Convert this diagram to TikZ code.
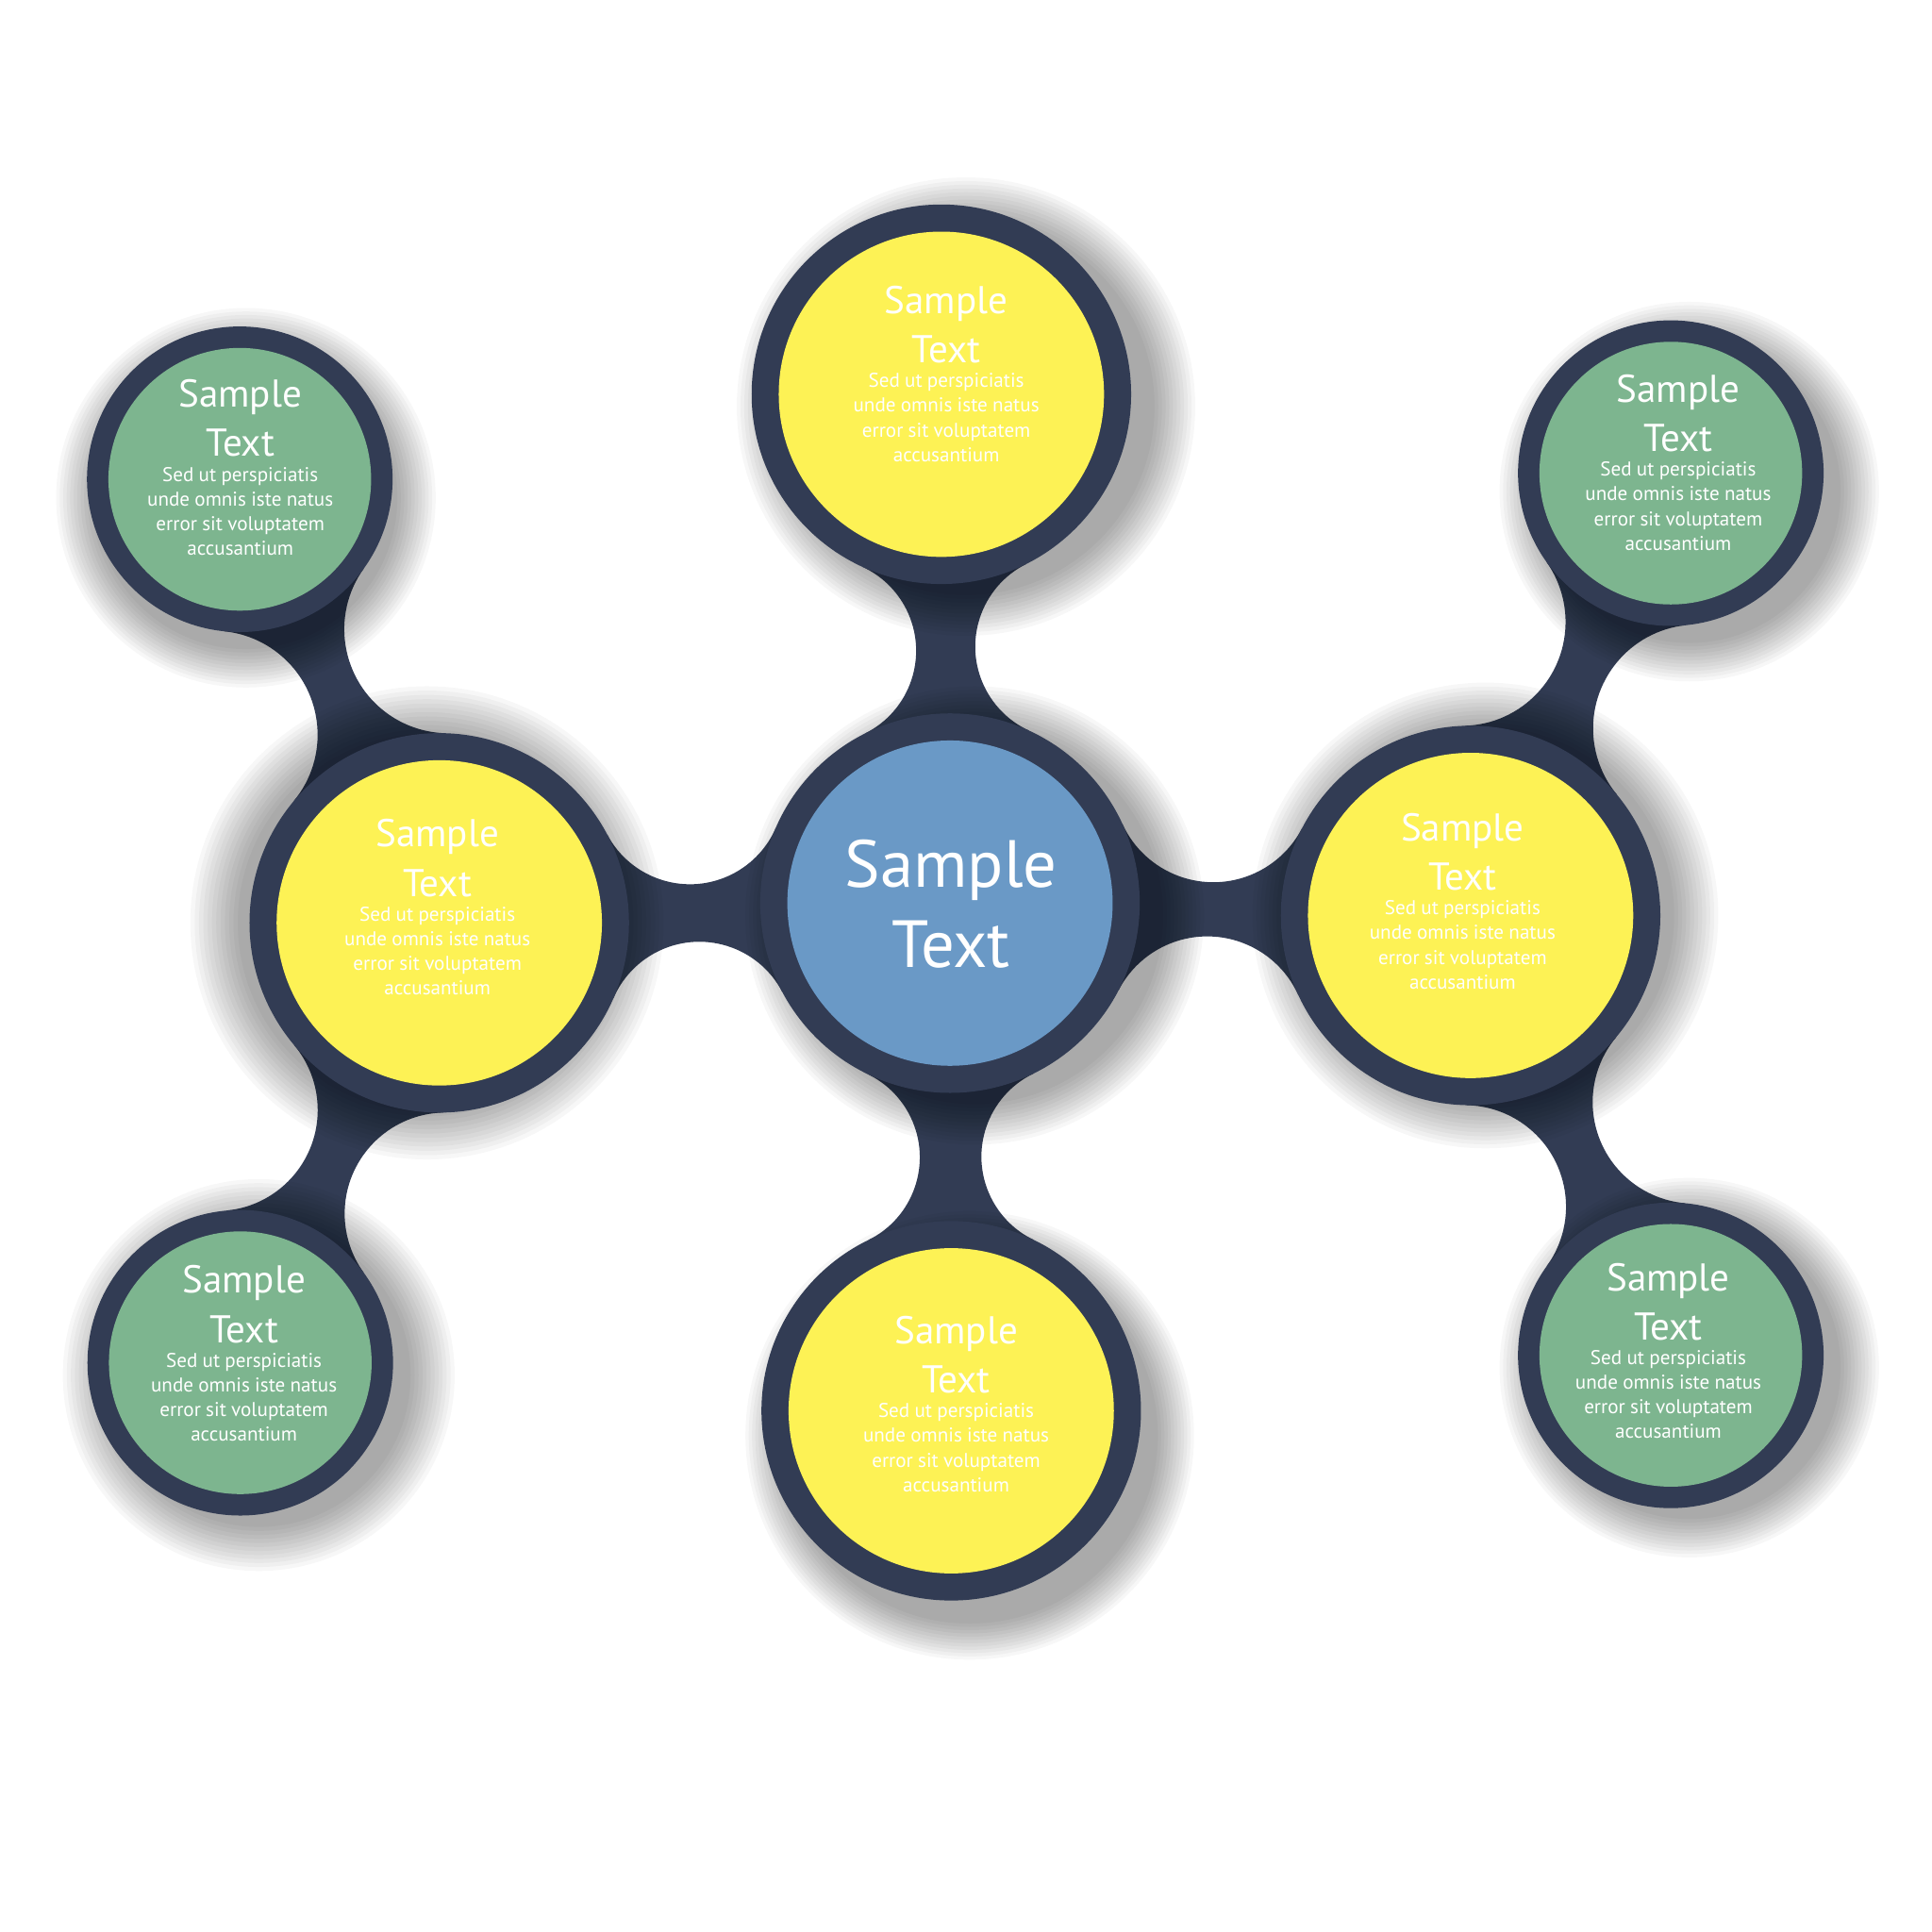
\documentclass[tikz,border=0pt]{standalone}
\usepackage{fontspec}
\setmainfont{PT Sans}
\definecolor{ringc}{RGB}{50,60,84}
\definecolor{yelc}{RGB}{253,242,85}
\definecolor{grnc}{RGB}{125,181,143}
\definecolor{bluc}{RGB}{106,153,198}
\tikzset{
  neckfill/.style={fill=ringc},
  shadowlayer/.style={fill=black, opacity=0.03},
  ringfill/.style={fill=ringc},
  lbl/.style={anchor=base, inner sep=0pt, text width=3cm, text=white, font=\fontsize{8.95}{11.4}\selectfont},
  clbl/.style={anchor=base, inner sep=0pt, text width=3cm, text=white, font=\fontsize{15.4}{18.5}\selectfont}
}
\newcommand\nodetxt{\centering Sample\\Text\par\fontsize{4.6}{5.69}\selectfont\spaceskip=0.25em\relax Sed ut perspiciatis\\unde omnis iste natus\\error sit voluptatem\\accusantium\par}
% soft shadow: centre #1 shifted by (#2,#3), base radius #4, extent #5
\newcommand\dropshadow[5]{%
\foreach \k in {1,...,12}{\fill[shadowlayer] ([shift={(#2,#3)}]#1) circle ({#4+#5*\k/12});}%
}
% neck between circle a (#1,#2; radius #3) and circle b (#4,#5; radius #6), half width #7
\newcommand\necknk[7]{%
\pgfmathsetmacro\nkdx{#4-#1}%
\pgfmathsetmacro\nkdy{#5-#2}%
\pgfmathsetmacro\nkd{sqrt(\nkdx*\nkdx+\nkdy*\nkdy)}%
\pgfmathsetmacro\nkux{\nkdx/\nkd}%
\pgfmathsetmacro\nkuy{\nkdy/\nkd}%
\pgfmathsetmacro\nkxo{(#3*#3-#6*#6+\nkd*\nkd)/(2*\nkd)}%
\pgfmathsetmacro\nkk{(#3-#6)/\nkd}%
\pgfmathsetmacro\nkA{-\nkk*\nkk}%
\pgfmathsetmacro\nkB{2*(#3-\nkxo*\nkk-#7)}%
\pgfmathsetmacro\nkC{#3*#3-\nkxo*\nkxo-#7*#7}%
\pgfmathsetmacro\nkrf{-2*\nkC/(\nkB+sqrt(\nkB*\nkB-4*\nkA*\nkC))}%
\pgfmathsetmacro\nkx{\nkxo+\nkk*\nkrf}%
\pgfmathsetmacro\nkh{\nkrf+#7}%
\pgfmathsetmacro\nkpx{#1+\nkx*\nkux-\nkh*\nkuy}%
\pgfmathsetmacro\nkpy{#2+\nkx*\nkuy+\nkh*\nkux}%
\pgfmathsetmacro\nkqx{#1+\nkx*\nkux+\nkh*\nkuy}%
\pgfmathsetmacro\nkqy{#2+\nkx*\nkuy-\nkh*\nkux}%
\pgfmathsetmacro\nkpa{atan2(#2-\nkpy,#1-\nkpx)}%
\pgfmathsetmacro\nkpb{atan2(#5-\nkpy,#4-\nkpx)}%
\pgfmathsetmacro\nkpbb{\nkpa+mod(\nkpb-\nkpa+540,360)-180}%
\pgfmathsetmacro\nkqb{atan2(#5-\nkqy,#4-\nkqx)}%
\pgfmathsetmacro\nkqa{atan2(#2-\nkqy,#1-\nkqx)}%
\pgfmathsetmacro\nkqaa{\nkqb+mod(\nkqa-\nkqb+540,360)-180}%
\fill[neckfill] ({\nkpx+\nkrf*cos(\nkpa)},{\nkpy+\nkrf*sin(\nkpa)}) arc[start angle=\nkpa, end angle=\nkpbb, radius=\nkrf]
  -- ({\nkqx+\nkrf*cos(\nkqb)},{\nkqy+\nkrf*sin(\nkqb)}) arc[start angle=\nkqb, end angle=\nkqaa, radius=\nkrf] -- cycle;
}
\begin{document}
\begin{tikzpicture}
\useasboundingbox[fill=white] (0,0) rectangle (15.68,15.68);
% centres
\coordinate (C) at (7.71,8.35);
\coordinate (T) at (7.64,12.48);
\coordinate (B) at (7.72,4.23);
\coordinate (L) at (3.565,8.19);
\coordinate (R) at (11.935,8.25);
\coordinate (TL) at (1.946,11.79);
\coordinate (BL) at (1.95,4.62);
\coordinate (TR) at (13.56,11.84);
\coordinate (BR) at (13.56,4.68);
% necks
\necknk{7.71}{8.35}{1.54}{7.64}{12.48}{1.54}{0.24}
\necknk{7.71}{8.35}{1.54}{7.72}{4.23}{1.54}{0.25}
\necknk{7.71}{8.35}{1.54}{3.565}{8.19}{1.54}{0.234}
\necknk{7.71}{8.35}{1.54}{11.935}{8.25}{1.54}{0.22}
\necknk{3.565}{8.19}{1.54}{1.946}{11.79}{1.24}{0.20}
\necknk{3.565}{8.19}{1.54}{1.95}{4.62}{1.24}{0.20}
\necknk{11.935}{8.25}{1.54}{13.56}{11.84}{1.24}{0.205}
\necknk{11.935}{8.25}{1.54}{13.56}{4.68}{1.24}{0.20}
% shadows
\dropshadow{T}{0.20}{-0.10}{1.50}{0.36}
\dropshadow{C}{0.20}{-0.10}{1.50}{0.36}
\dropshadow{B}{0.15}{-0.20}{1.50}{0.32}
\dropshadow{L}{-0.10}{0}{1.50}{0.42}
\dropshadow{R}{0.12}{0}{1.50}{0.39}
\dropshadow{TL}{0.05}{-0.15}{1.20}{0.34}
\dropshadow{TR}{0.15}{-0.15}{1.20}{0.34}
\dropshadow{BL}{0.15}{-0.10}{1.20}{0.39}
\dropshadow{BR}{0.15}{-0.10}{1.20}{0.34}
% rings and discs
\foreach \p in {C,T,B,L,R} {\fill[ringfill] (\p) circle (1.54);}
\foreach \p in {TL,BL,TR,BR} {\fill[ringfill] (\p) circle (1.24);}
\fill[bluc] (C) circle (1.32);
\foreach \p in {T,B,L,R} {\fill[yelc] (\p) circle (1.32);}
\foreach \p in {TL,BL,TR,BR} {\fill[grnc] (\p) circle (1.066);}
% texts
\node[clbl] (tC) at (7.72,8.482) {\centering Sample\\Text\par};
\node[lbl] (tT) at (7.68,13.135) {\nodetxt};
\node[lbl] (tB) at (7.76,4.775) {\nodetxt};
\node[lbl] (tL) at (3.55,8.805) {\nodetxt};
\node[lbl] (tR) at (11.87,8.855) {\nodetxt};
\node[lbl] (tTL) at (1.95,12.375) {\nodetxt};
\node[lbl] (tTR) at (13.62,12.415) {\nodetxt};
\node[lbl] (tBL) at (1.98,5.185) {\nodetxt};
\node[lbl] (tBR) at (13.54,5.205) {\nodetxt};
\end{tikzpicture}
\end{document}
